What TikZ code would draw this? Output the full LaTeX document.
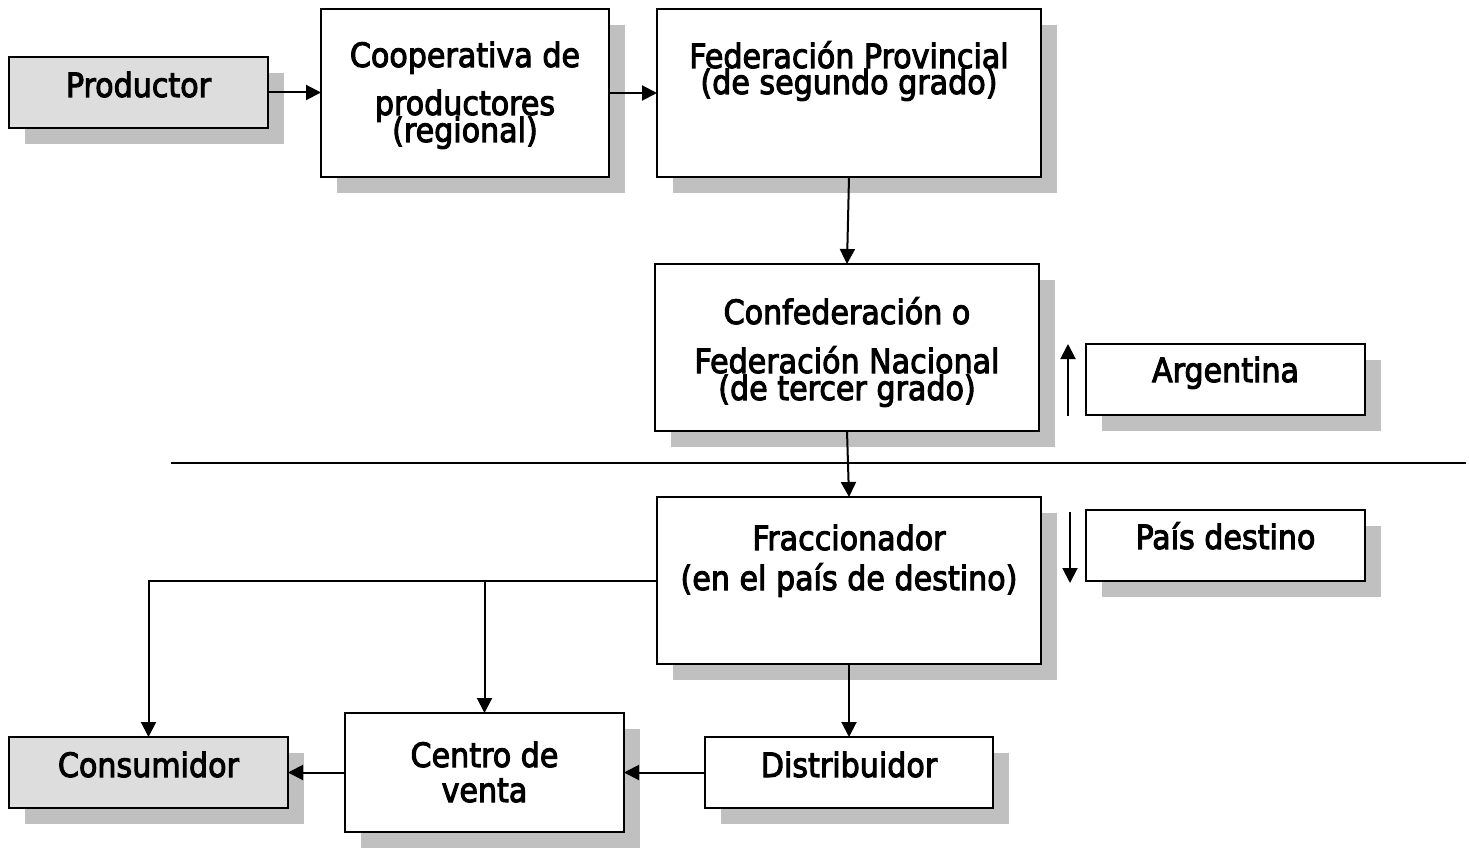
\documentclass[tikz,border=0pt]{standalone}
\usepackage{fontspec}
\setmainfont{DejaVu Sans Condensed}[FakeBold=3]
\usetikzlibrary{arrows.meta,shadows}
\definecolor{shadowgray}{RGB}{192,192,192}
\definecolor{boxgray}{RGB}{221,221,221}
\tikzset{
  box/.style={draw=black, line width=2pt, fill=white, inner sep=0pt, outer sep=0pt,
    drop shadow={shadow xshift=16pt, shadow yshift=-16pt, fill=shadowgray, opacity=1}},
  graybox/.style={box, fill=boxgray},
  txt/.style={inner sep=0pt, anchor=base, font=\fontsize{33.5}{33.5}\selectfont},
  conn/.style={line width=2pt, -{Triangle[length=15pt,width=15pt]}},
  plain/.style={line width=2pt}
}
\begin{document}
\begin{tikzpicture}[x=1pt,y=-1pt]
\useasboundingbox (0,0) rectangle (1469,848);
% boxes
\node[graybox, minimum width=259pt, minimum height=71pt] (prod) at (138.5,92.5) {};
\node[box, minimum width=288pt, minimum height=168pt] (coop) at (465,93) {};
\node[box, minimum width=384pt, minimum height=168pt] (fedp) at (849,93) {};
\node[box, minimum width=384pt, minimum height=167pt] (conf) at (847,347.5) {};
\node[box, minimum width=279pt, minimum height=71pt] (arg) at (1225.5,379.5) {};
\node[box, minimum width=384pt, minimum height=167pt] (frac) at (849,580.5) {};
\node[box, minimum width=279pt, minimum height=71pt] (pais) at (1225.5,545.5) {};
\node[graybox, minimum width=279pt, minimum height=71pt] (cons) at (148.5,772.5) {};
\node[box, minimum width=279pt, minimum height=119pt] (cent) at (484.5,772.5) {};
\node[box, minimum width=288pt, minimum height=71pt] (dist) at (849,772.5) {};
% texts
\node[txt] (prodt) at (138.5,97) {Productor};
\node[txt] (coopt1) at (465,67) {Cooperativa de};
\node[txt] (coopt2) at (465,115) {productores};
\node[txt] (coopt3) at (465,142) {(regional)};
\node[txt] (fedpt1) at (849,68) {Federación Provincial};
\node[txt] (fedpt2) at (849,94) {(de segundo grado)};
\node[txt] (conft1) at (847,324) {Confederación o};
\node[txt] (conft2) at (847,373) {Federación Nacional};
\node[txt] (conft3) at (847,400) {(de tercer grado)};
\node[txt] (argt) at (1225.5,382) {Argentina};
\node[txt] (fract1) at (849,550) {Fraccionador};
\node[txt] (fract2) at (849,590) {(en el país de destino)};
\node[txt] (paist) at (1225.5,549) {País destino};
\node[txt] (const) at (148.5,777) {Consumidor};
\node[txt] (centt1) at (484.5,767) {Centro de};
\node[txt] (centt2) at (484.5,802) {venta};
\node[txt] (distt) at (849,777) {Distribuidor};
% separator
\coordinate (sepL) at (171,463);
\coordinate (sepR) at (1466,463);
\draw[plain] (sepL) -- (sepR);
% free arrows
\coordinate (argA) at (1068,416);
\coordinate (argB) at (1068,344);
\draw[conn] (argA) -- (argB);
\coordinate (paisA) at (1070,512);
\coordinate (paisB) at (1070,583);
\draw[conn] (paisA) -- (paisB);
% connectors
\draw[conn] (prod.east) -- (prod.east -| coop.west);
\draw[conn] (coop.east) -- (coop.east -| fedp.west);
\draw[conn] (fedp.south) -- (conf.north);
\draw[conn] (conf.south) -- (frac.north);
\draw[conn] (frac.south) -- (dist.north);
\draw[conn] (dist.west) -- (dist.west -| cent.east);
\draw[conn] (cent.west) -- (cent.west -| cons.east);
\draw[conn] (frac.west) -| (cons.north);
\coordinate (branch) at (frac.west -| cent.north);
\draw[conn] (branch) -- (cent.north);
\end{tikzpicture}
\end{document}
